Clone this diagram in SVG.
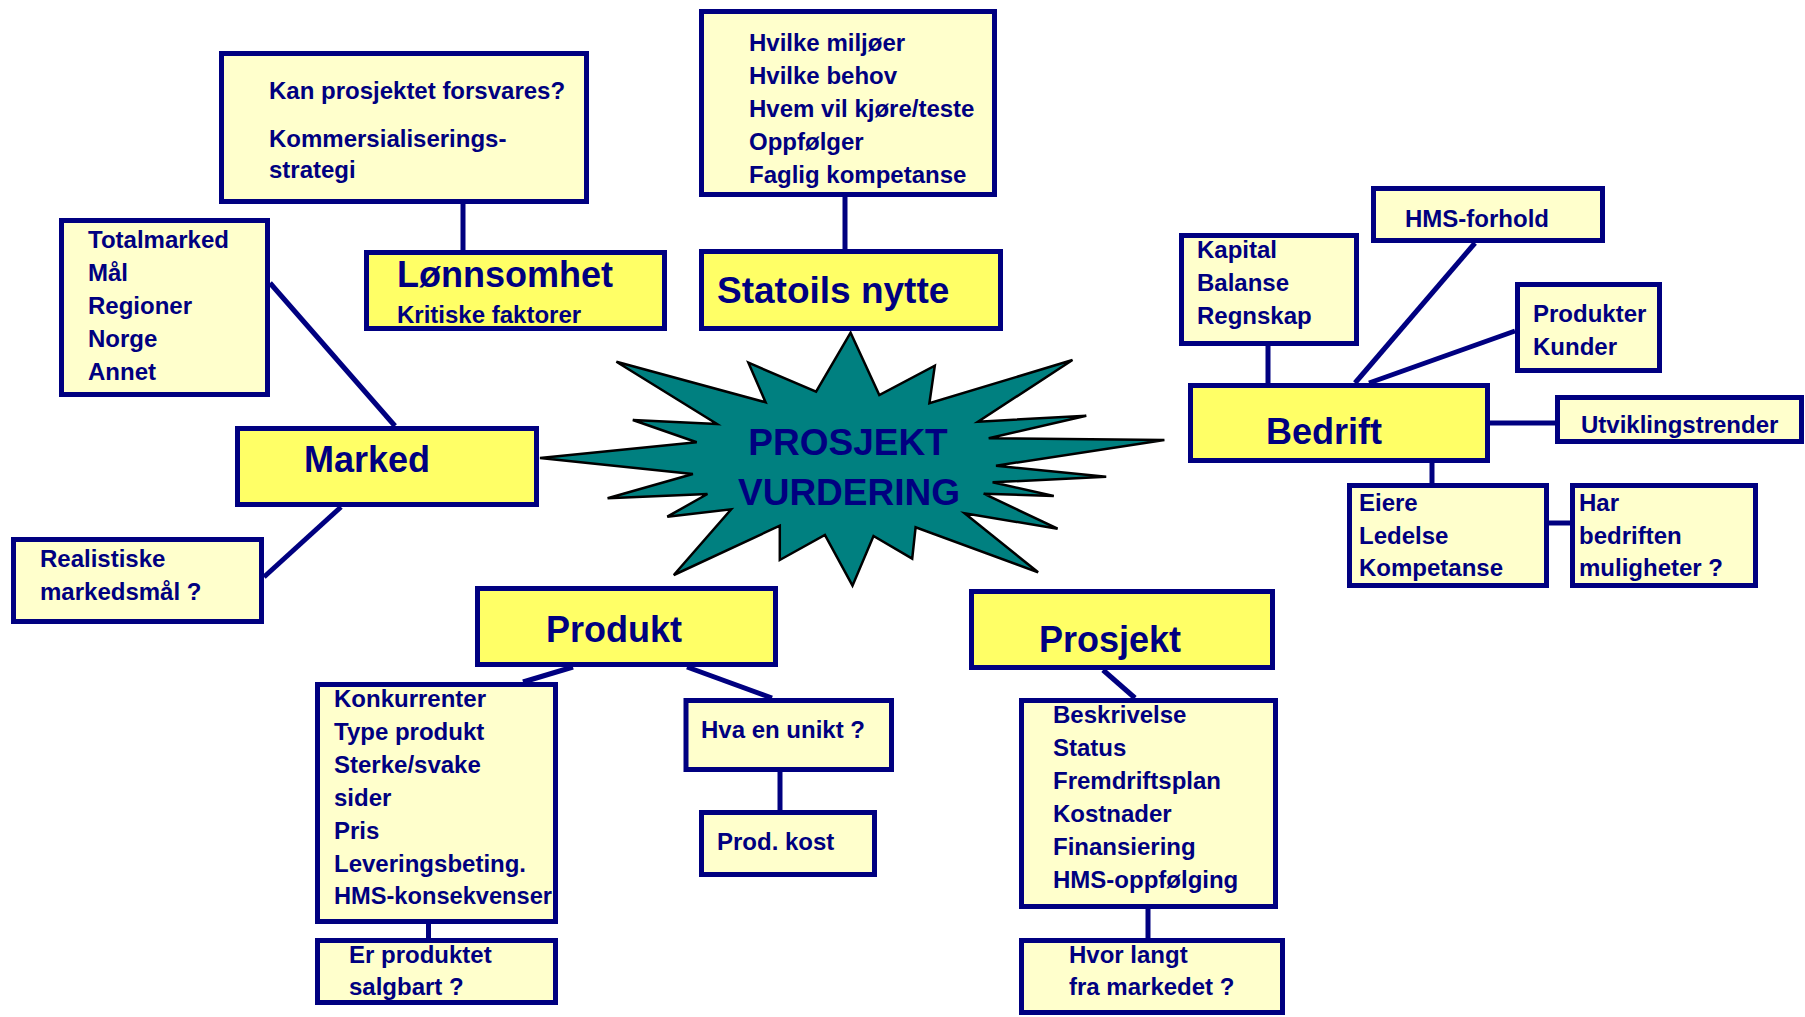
<svg xmlns="http://www.w3.org/2000/svg" width="1805" height="1017" viewBox="0 0 1805 1017">
<style>
.main{fill:#FFFF66;stroke:#000080;stroke-width:5}
.sub{fill:#FFFFCC;stroke:#000080;stroke-width:5}
.t{font-family:"Liberation Sans",Arial,sans-serif;font-weight:bold;font-size:24px;fill:#000080}
.big{font-size:36px}
.conn line{stroke:#000080;stroke-width:5}
</style>
<rect width="1805" height="1017" fill="#ffffff"/>
<g id="connectors" class="conn">
<line x1="463" y1="204" x2="463" y2="250"/>
<line x1="845" y1="197" x2="845" y2="249"/>
<line x1="270" y1="283" x2="395" y2="426"/>
<line x1="341" y1="507" x2="264" y2="577"/>
<line x1="573" y1="667" x2="523" y2="682"/>
<line x1="687" y1="667" x2="772" y2="698"/>
<line x1="780" y1="772" x2="780" y2="810"/>
<line x1="428.5" y1="924" x2="428.5" y2="938"/>
<line x1="1103" y1="670" x2="1135" y2="698"/>
<line x1="1148" y1="909" x2="1148" y2="938"/>
<line x1="1268" y1="346" x2="1268" y2="383"/>
<line x1="1475" y1="243" x2="1355" y2="383"/>
<line x1="1515" y1="331" x2="1369" y2="383"/>
<line x1="1490" y1="423" x2="1555" y2="423"/>
<line x1="1432" y1="463" x2="1432" y2="483"/>
<line x1="1549" y1="523" x2="1570" y2="523"/>
</g>
<g id="star">
<polygon points="850.6,332.7 879.3,395 934.8,365.7 929.4,403.3 1072.5,360 978,421.7 1086.3,415.7 988.7,438.3 1164.4,440 996,465.7 1106.2,476.7 992.6,482.3 1053.8,496 983.7,493.7 1057.6,528.7 964.6,513.3 1038.1,572.3 915.6,527.3 912.2,558.7 873.5,536 852.5,585.7 824.9,535 779.8,560 779.8,525.7 673.8,575 731.2,509.3 667.3,516.7 707.4,494 607.6,498.3 692.9,474 540,458 696.7,442.3 632.8,420 717,424 616.4,361.7 765.6,402.3 748.4,362.7 816.1,391.7" fill="#008080" stroke="#000000" stroke-width="2.5" stroke-linejoin="miter"/>
<text class="t" x="848" y="455" text-anchor="middle" style="font-size:37px">PROSJEKT</text>
<text class="t" x="849" y="505" text-anchor="middle" style="font-size:37px">VURDERING</text>
</g>
<g id="kan">
<rect class="sub" x="221.5" y="53.5" width="365" height="148"/>
<text class="t" x="269" y="99">Kan prosjektet forsvares?</text>
<text class="t" x="269" y="147">Kommersialiserings-</text>
<text class="t" x="269" y="178">strategi</text>
</g>
<g id="statoils-detail">
<rect class="sub" x="701.5" y="11.5" width="293" height="183"/>
<text class="t" x="749" y="51">Hvilke miljøer</text>
<text class="t" x="749" y="84">Hvilke behov</text>
<text class="t" x="749" y="117">Hvem vil kjøre/teste</text>
<text class="t" x="749" y="150">Oppfølger</text>
<text class="t" x="749" y="183">Faglig kompetanse</text>
</g>
<g id="lonnsomhet">
<rect class="main" x="366.5" y="252.5" width="298" height="76"/>
<text class="t big" x="397" y="287">Lønnsomhet</text>
<text class="t" x="397" y="323">Kritiske faktorer</text>
</g>
<g id="statoils">
<rect class="main" x="701.5" y="251.5" width="299" height="77"/>
<text class="t" x="717" y="303" style="font-size:37px">Statoils nytte</text>
</g>
<g id="totalmarked">
<rect class="sub" x="61.5" y="220.5" width="206" height="174"/>
<text class="t" x="88" y="248">Totalmarked</text>
<text class="t" x="88" y="281">Mål</text>
<text class="t" x="88" y="314">Regioner</text>
<text class="t" x="88" y="347">Norge</text>
<text class="t" x="88" y="380">Annet</text>
</g>
<g id="marked">
<rect class="main" x="237.5" y="428.5" width="299" height="76"/>
<text class="t big" x="304" y="472">Marked</text>
</g>
<g id="realistiske">
<rect class="sub" x="13.5" y="539.5" width="248" height="82"/>
<text class="t" x="40" y="567">Realistiske</text>
<text class="t" x="40" y="600">markedsmål ?</text>
</g>
<g id="produkt">
<rect class="main" x="477.5" y="588.5" width="298" height="76"/>
<text class="t big" x="546" y="642">Produkt</text>
</g>
<g id="konkurrenter">
<rect class="sub" x="317.5" y="684.5" width="238" height="237"/>
<text class="t" x="334" y="707">Konkurrenter</text>
<text class="t" x="334" y="740">Type produkt</text>
<text class="t" x="334" y="773">Sterke/svake</text>
<text class="t" x="334" y="806">sider</text>
<text class="t" x="334" y="839">Pris</text>
<text class="t" x="334" y="872">Leveringsbeting.</text>
<text class="t" x="334" y="904" textLength="218" lengthAdjust="spacingAndGlyphs">HMS-konsekvenser</text>
</g>
<g id="erprodukt">
<rect class="sub" x="317.5" y="940.5" width="238" height="62"/>
<text class="t" x="349" y="963">Er produktet</text>
<text class="t" x="349" y="995">salgbart ?</text>
</g>
<g id="hva">
<rect class="sub" x="686" y="700.5" width="205.5" height="69"/>
<text class="t" x="701" y="738">Hva en unikt ?</text>
</g>
<g id="prodkost">
<rect class="sub" x="701.5" y="812.5" width="173" height="62"/>
<text class="t" x="717" y="850">Prod. kost</text>
</g>
<g id="prosjekt">
<rect class="main" x="971.5" y="591.5" width="301" height="76"/>
<text class="t big" x="1039" y="652">Prosjekt</text>
</g>
<g id="beskrivelse">
<rect class="sub" x="1021.5" y="700.5" width="254" height="206"/>
<text class="t" x="1053" y="723">Beskrivelse</text>
<text class="t" x="1053" y="756">Status</text>
<text class="t" x="1053" y="789">Fremdriftsplan</text>
<text class="t" x="1053" y="822">Kostnader</text>
<text class="t" x="1053" y="855">Finansiering</text>
<text class="t" x="1053" y="888">HMS-oppfølging</text>
</g>
<g id="hvorlangt">
<rect class="sub" x="1021.5" y="940.5" width="261" height="72"/>
<text class="t" x="1069" y="963">Hvor langt</text>
<text class="t" x="1069" y="995">fra markedet ?</text>
</g>
<g id="kapital">
<rect class="sub" x="1181.5" y="235.5" width="175" height="108"/>
<text class="t" x="1197" y="258">Kapital</text>
<text class="t" x="1197" y="291">Balanse</text>
<text class="t" x="1197" y="324">Regnskap</text>
</g>
<g id="hms">
<rect class="sub" x="1373.5" y="188.5" width="229" height="52"/>
<text class="t" x="1405" y="227">HMS-forhold</text>
</g>
<g id="produkter">
<rect class="sub" x="1517.5" y="284.5" width="142" height="86"/>
<text class="t" x="1533" y="322">Produkter</text>
<text class="t" x="1533" y="355">Kunder</text>
</g>
<g id="bedrift">
<rect class="main" x="1190.5" y="385.5" width="297" height="75"/>
<text class="t big" x="1266" y="444">Bedrift</text>
</g>
<g id="utvikling">
<rect class="sub" x="1557.5" y="397.5" width="244" height="44"/>
<text class="t" x="1581" y="433">Utviklingstrender</text>
</g>
<g id="eiere">
<rect class="sub" x="1349.5" y="485.5" width="197" height="100"/>
<text class="t" x="1359" y="511">Eiere</text>
<text class="t" x="1359" y="544">Ledelse</text>
<text class="t" x="1359" y="576">Kompetanse</text>
</g>
<g id="har">
<rect class="sub" x="1572.5" y="485.5" width="183" height="100"/>
<text class="t" x="1579" y="511">Har</text>
<text class="t" x="1579" y="544">bedriften</text>
<text class="t" x="1579" y="576">muligheter ?</text>
</g>
</svg>
